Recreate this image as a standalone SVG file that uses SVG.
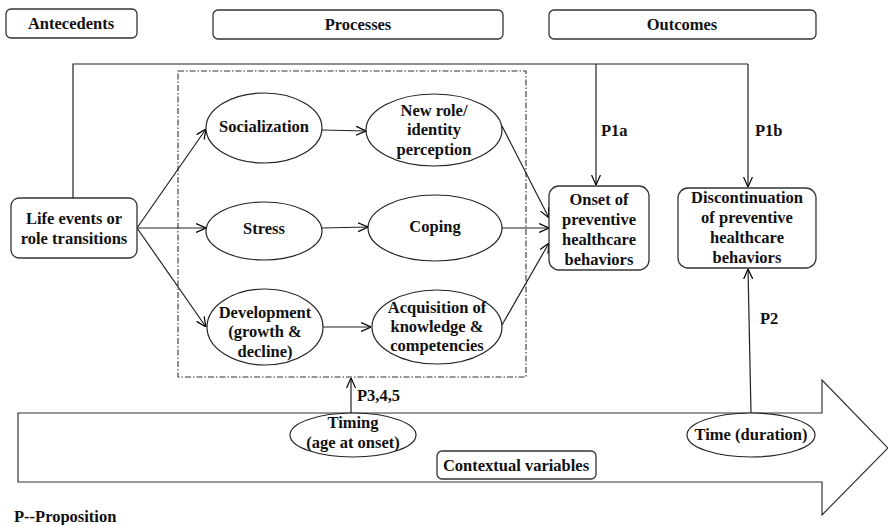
<svg xmlns="http://www.w3.org/2000/svg" width="888" height="525" viewBox="0 0 888 525">
<defs>
<marker id="arr" viewBox="0 0 10 10" refX="10" refY="5" markerWidth="10" markerHeight="10" markerUnits="userSpaceOnUse" orient="auto">
<polyline points="0,0.5 10,5 0,9.5" fill="none" stroke="#000" stroke-width="1.2"/>
</marker>
</defs>
<style>
text{font-family:"Liberation Serif","Times New Roman",serif;font-weight:bold;font-size:16.5px;fill:#111;text-anchor:middle;}
.box{fill:#fff;stroke:#333;stroke-width:1.3;}
.ell{fill:#fff;stroke:#222;stroke-width:1.2;}
.ln{fill:none;stroke:#222;stroke-width:1.2;}
.ar{fill:none;stroke:#222;stroke-width:1.2;marker-end:url(#arr);}
.lab{text-anchor:start;}
</style>
<rect width="888" height="525" fill="#fff"/>

<g id="big-arrow">
<polygon points="18,413 822,413 822,380 888,448 822,515 822,482 18,482" fill="#fff" stroke="#333" stroke-width="1.2"/>
</g>

<g id="header-antecedents"><rect class="box" x="6" y="9" width="131" height="29" rx="5"/><text x="71" y="29">Antecedents</text></g>
<g id="header-processes"><rect class="box" x="213" y="10" width="290" height="29" rx="5"/><text x="358" y="30">Processes</text></g>
<g id="header-outcomes"><rect class="box" x="549" y="10" width="267" height="29" rx="5"/><text x="682" y="30">Outcomes</text></g>

<g id="process-frame"><rect x="178" y="71" width="348" height="306" fill="none" stroke="#333" stroke-width="1.1" stroke-dasharray="6,2,1.5,2"/></g>

<g id="connectors">
<polyline class="ln" points="73,198 73,64 748,64"/>
<line class="ar" x1="596" y1="64" x2="596" y2="185"/>
<line class="ar" x1="748" y1="64" x2="748" y2="187"/>
<line class="ar" x1="137" y1="228" x2="206" y2="129"/>
<line class="ar" x1="137" y1="228" x2="206" y2="228"/>
<line class="ar" x1="137" y1="228" x2="206" y2="327"/>
<line class="ar" x1="322" y1="130" x2="366" y2="131"/>
<line class="ar" x1="322" y1="228" x2="368" y2="227"/>
<line class="ar" x1="323" y1="327" x2="371" y2="327"/>
<line class="ar" x1="502" y1="126" x2="549" y2="218"/>
<line class="ar" x1="502" y1="228" x2="549" y2="228"/>
<line class="ar" x1="502" y1="325" x2="549" y2="243"/>
<line class="ar" x1="351" y1="413" x2="351" y2="378"/>
<line class="ar" x1="751" y1="413" x2="748" y2="269"/>
<text class="lab" x="601" y="136">P1a</text>
<text class="lab" x="755" y="136">P1b</text>
<text class="lab" x="760" y="324">P2</text>
<text class="lab" x="357" y="401">P3,4,5</text>
</g>

<g id="life-events"><rect class="box" x="11" y="198" width="126" height="60" rx="8"/><text x="74" y="224">Life events or</text><text x="74" y="244">role transitions</text></g>

<g id="socialization"><ellipse class="ell" cx="264" cy="128" rx="58" ry="35"/><text x="264" y="132">Socialization</text></g>
<g id="new-role"><ellipse class="ell" cx="434" cy="130" rx="68" ry="36"/><text x="434" y="116">New role/</text><text x="434" y="135">identity</text><text x="434" y="155">perception</text></g>
<g id="stress"><ellipse class="ell" cx="264" cy="231" rx="58" ry="29"/><text x="264" y="234">Stress</text></g>
<g id="coping"><ellipse class="ell" cx="435" cy="228" rx="67" ry="33"/><text x="435" y="232">Coping</text></g>
<g id="development"><ellipse class="ell" cx="265" cy="327" rx="58" ry="38"/><text x="265" y="318">Development</text><text x="265" y="337">(growth &amp;</text><text x="265" y="357">decline)</text></g>
<g id="acquisition"><ellipse class="ell" cx="437" cy="327" rx="65" ry="37"/><text x="437" y="313">Acquisition of</text><text x="437" y="332">knowledge &amp;</text><text x="437" y="351">competencies</text></g>

<g id="onset"><rect class="box" x="549" y="186" width="100" height="84" rx="10"/><text x="599" y="205">Onset of</text><text x="599" y="225">preventive</text><text x="599" y="245">healthcare</text><text x="599" y="265">behaviors</text></g>
<g id="discontinuation"><rect class="box" x="678" y="188" width="138" height="80" rx="10"/><text x="747" y="203">Discontinuation</text><text x="747" y="223">of preventive</text><text x="747" y="243">healthcare</text><text x="747" y="263">behaviors</text></g>

<g id="timing"><ellipse class="ell" cx="353" cy="435" rx="63" ry="22"/><text x="353" y="428">Timing</text><text x="353" y="448">(age at onset)</text></g>
<g id="time-duration"><ellipse class="ell" cx="751" cy="435" rx="64" ry="22"/><text x="751" y="440">Time (duration)</text></g>
<g id="contextual"><rect class="box" x="437" y="451" width="159" height="28" rx="5"/><text x="516" y="471">Contextual variables</text></g>

<text class="lab" x="14" y="522">P--Proposition</text>
</svg>
